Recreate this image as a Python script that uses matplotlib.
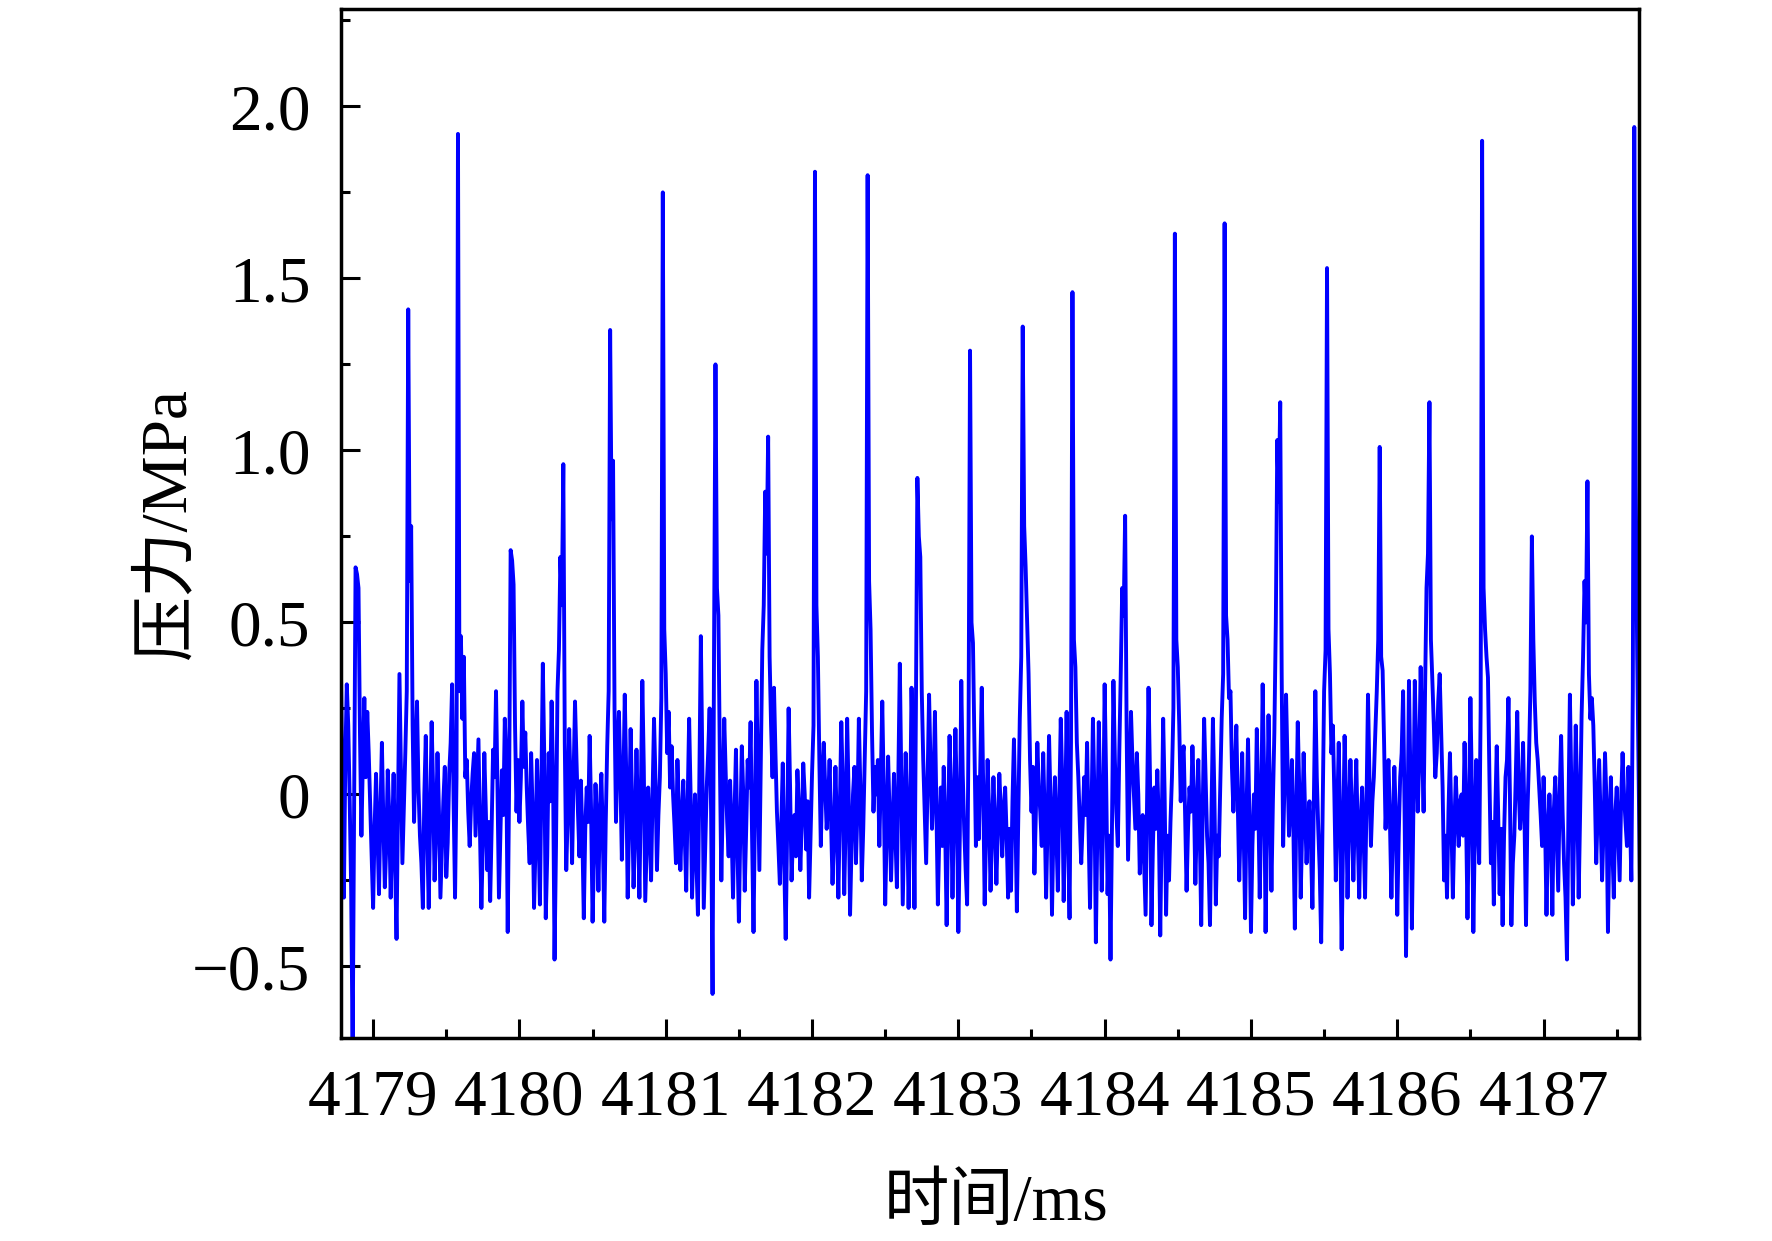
import numpy as np
import matplotlib.pyplot as plt
from matplotlib.ticker import MultipleLocator

# sampled pressure signal (MPa), one sample every 0.01 ms from 4178.78 ms
t_start = 4178.78
dt = 0.01

p_a = [0.36, 0.04, -0.30, 0.10, 0.32, 0.20, -0.02, -0.28, -0.75, -0.05, 0.66, 0.64, 0.60, 0.18,
       -0.12, 0.10, 0.28, 0.05, 0.24, 0.12, -0.03, -0.18, -0.33, -0.10, 0.06, -0.12, -0.29, -0.05, 0.15, -0.08,
       -0.27, -0.15, 0.07, -0.06, -0.30, -0.12, 0.06, -0.20, -0.42, -0.02, 0.35, 0.08, -0.20, -0.04, 0.12, 0.30,
       1.41, 0.62, 0.78, 0.20,
       -0.08, 0.12, 0.27, 0.02, -0.12, -0.20, -0.33, 0.00, 0.17, -0.12, -0.33, -0.06, 0.21, 0.02, -0.25, -0.10,
       0.12, -0.05, -0.30, -0.16, -0.02, 0.08, -0.24, -0.14, 0.06, 0.15, 0.32, -0.02, -0.30, 0.05,
       1.92, 0.30, 0.46, 0.22, 0.40, 0.05,
       0.10, -0.05, -0.15, -0.02, 0.06, 0.12, -0.12, 0.02, 0.16, -0.10, -0.33, -0.14, 0.12, -0.04, -0.22, -0.08,
       -0.31, -0.10, 0.13, 0.05, 0.30, 0.02, -0.30, -0.12, 0.07, -0.06, 0.22, 0.10, -0.40, 0.05]

p_b = [0.71, 0.68, 0.61, 0.20, -0.05, 0.10,
       -0.08, 0.05, 0.27, 0.08, 0.18, 0.02, -0.10, -0.20, 0.12, -0.05, -0.33, -0.15, 0.10, -0.08, -0.32, 0.02,
       0.38, 0.10, -0.36, -0.18, 0.12, -0.02, 0.27, 0.05, -0.48, -0.15, 0.30, 0.42,
       0.69, 0.55, 0.96, 0.15,
       -0.22, -0.06, 0.19, 0.02, -0.20, 0.05, 0.27, 0.10, -0.05, -0.18, 0.04, -0.12, -0.36, -0.10, 0.02, -0.08,
       0.17, -0.05, -0.37, -0.18, 0.03, -0.10, -0.28, -0.04, 0.06, -0.12, -0.37, -0.08, 0.14, 0.30,
       1.35, 0.80, 0.97, 0.25, -0.08, 0.12,
       0.24, 0.05, -0.19, 0.02, 0.29, 0.06, -0.30, -0.08, 0.19, -0.02, -0.27, -0.12, 0.13, -0.06, -0.30, 0.00,
       0.33, 0.08, -0.31, -0.15, 0.02, -0.10, -0.25, 0.00, 0.22, 0.04, -0.22, -0.06, 0.05, 0.28,
       1.75, 0.48, 0.35, 0.12, 0.24, 0.02,
       0.14, 0.00, -0.09, -0.20, 0.10, -0.04, -0.22, -0.08, 0.04, -0.12, -0.28, -0.02, 0.22, 0.00, -0.30, -0.14,
       0.00, -0.20, -0.35, 0.05, 0.46, 0.10, -0.33, -0.15, 0.02, 0.12, 0.25, -0.05]

p_c = [-0.58, 0.40, 1.25, 0.60, 0.52, 0.10, -0.25, -0.02,
       0.22, 0.06, -0.08, -0.18, 0.04, -0.10, -0.30, -0.06, 0.13, -0.15, -0.37, -0.10, 0.14, 0.00, -0.28, -0.10,
       0.10, 0.02, 0.21, -0.12, -0.40, -0.05, 0.33, 0.05, -0.22, 0.10, 0.42, 0.55,
       0.88, 0.70, 1.04, 0.40, 0.20, 0.05, 0.31, 0.12,
       -0.05, -0.15, -0.26, -0.08, 0.09, -0.20, -0.42, -0.10, 0.25, 0.02, -0.25, -0.12, -0.06, -0.18, 0.07, -0.04,
       -0.22, -0.08, 0.09, 0.00, -0.16, -0.02, -0.30, -0.12, 0.06, 0.20,
       1.81, 0.55, 0.40, 0.10, -0.15, 0.05,
       0.15, 0.02, -0.10, -0.02, 0.10, -0.08, -0.26, -0.12, 0.08, -0.10, -0.30, -0.05, 0.21, 0.03, -0.29, -0.08,
       0.22, 0.00, -0.35, -0.15, 0.00, 0.08, -0.20, -0.05, 0.22, 0.02, -0.25, -0.10, 0.10, 0.30,
       1.80, 0.62, 0.48, 0.18, -0.05, 0.08,
       0.00, 0.10, -0.15, 0.05, 0.27, 0.02, -0.32, -0.12, 0.11, -0.06, -0.25, -0.10, 0.06, -0.12, -0.27, 0.05,
       0.38, 0.05, -0.32, -0.10, 0.12, -0.05, -0.33, -0.08, 0.31, 0.10, -0.33, 0.25]

p_d = [0.92, 0.75, 0.69, 0.30, 0.10, -0.05,
       -0.20, 0.05, 0.29, 0.08, -0.10, 0.02, 0.24, -0.05, -0.32, -0.12, 0.02, -0.15, 0.08, -0.10, -0.38, -0.08,
       0.17, 0.00, -0.30, -0.06, 0.19, -0.02, -0.40, -0.12, 0.33, 0.06, -0.10, -0.22, -0.32, 0.20,
       1.29, 0.50, 0.44, 0.15, -0.15, 0.05,
       -0.13, 0.08, 0.31, 0.02, -0.32, -0.10, 0.10, -0.05, -0.28, -0.12, 0.05, -0.08, -0.26, -0.10, 0.06, -0.04,
       -0.18, -0.05, 0.02, -0.12, -0.30, -0.10, -0.28, -0.02, 0.16, -0.06, -0.34, -0.05, 0.22, 0.40,
       1.36, 0.78, 0.66, 0.50, 0.35, 0.10, -0.05, 0.08,
       -0.23, -0.05, 0.15, 0.02, -0.05, -0.15, 0.12, -0.06, -0.30, -0.08, 0.17, -0.02, -0.35, -0.10, 0.05, -0.12,
       -0.28, -0.02, 0.22, 0.04, -0.31, -0.08, 0.24, -0.10, -0.36, 0.15,
       1.46, 0.45, 0.37, 0.15, 0.05, -0.08,
       -0.20, -0.08, 0.05, -0.06, 0.15, -0.10, -0.33, -0.05, 0.22, 0.00, -0.43, -0.12, 0.21, -0.02, -0.28, -0.08,
       0.32, 0.05, -0.29, -0.12, -0.48, -0.10, 0.33, 0.10, -0.05, -0.15, 0.12, 0.35]

p_e = [0.60, 0.52, 0.81, 0.20, -0.19, 0.02, 0.24, 0.10,
       0.00, -0.10, 0.12, 0.00, -0.23, -0.12, -0.06, -0.20, -0.35, -0.02, 0.31, 0.05, -0.38, -0.15, 0.02, -0.10,
       0.07, -0.08, -0.41, -0.10, 0.22, 0.00, -0.35, -0.12, -0.25, -0.08, 0.05, 0.25,
       1.63, 0.45, 0.37, 0.20, -0.02, 0.10,
       0.14, -0.06, -0.28, -0.10, 0.02, -0.05, 0.14, 0.00, -0.26, -0.08, 0.10, -0.10, -0.38, -0.05, 0.22, 0.05,
       -0.12, -0.20, -0.38, -0.06, 0.22, 0.00, -0.32, -0.12, -0.18, 0.02, 0.22, 0.35,
       1.66, 0.52, 0.45, 0.28, 0.30, 0.08,
       -0.05, 0.06, 0.20, -0.02, -0.25, -0.08, 0.12, -0.10, -0.36, -0.04, 0.16, -0.08, -0.40, -0.15, 0.00, -0.10,
       0.19, -0.02, -0.30, -0.05, 0.32, 0.06, -0.40, -0.10, 0.23, 0.00, -0.28, -0.02, 0.18, 0.50,
       1.03, 0.85, 1.14, 0.35, -0.15, 0.05, 0.29, 0.08,
       -0.12, -0.02, 0.10, -0.10, -0.39, -0.05, 0.21, 0.02, -0.30, -0.10, 0.12, -0.05, -0.20, -0.08, -0.02, -0.15,
       -0.33, -0.02, 0.30, 0.05, -0.10, -0.22, -0.43, -0.05, 0.30, 0.42]

p_f = [1.53, 0.48, 0.35, 0.12, 0.20, 0.00,
       -0.25, -0.05, 0.15, -0.10, -0.45, -0.12, 0.17, 0.00, -0.30, -0.08, 0.10, -0.06, -0.25, -0.05, 0.10, -0.12,
       -0.30, -0.08, 0.02, -0.12, -0.30, -0.02, 0.29, 0.05, -0.15, -0.02, 0.05, 0.18, 0.30, 0.45,
       1.01, 0.40, 0.36, 0.15, -0.10, 0.02,
       0.10, -0.08, -0.30, -0.10, 0.08, -0.06, -0.35, -0.12, 0.05, 0.12, 0.30, -0.05, -0.47, -0.10, 0.33, 0.05,
       -0.39, -0.05, 0.33, 0.12, -0.05, 0.10, 0.37, 0.15, -0.05, 0.30, 0.60, 0.70,
       1.14, 0.45, 0.33, 0.20, 0.05, 0.12, 0.27, 0.35, 0.18, 0.02,
       -0.25, -0.12, -0.30, -0.05, 0.12, -0.08, -0.30, -0.10, 0.05, -0.06, -0.15, -0.02, 0.00, -0.12, 0.15, -0.05,
       -0.36, -0.06, 0.28, 0.02, -0.40, -0.12, 0.10, -0.08, -0.20, 0.25]

p_g = [1.90, 0.60, 0.48, 0.40, 0.34, 0.05,
       -0.20, -0.08, -0.32, -0.05, 0.14, -0.06, -0.29, -0.10, -0.38, -0.12, 0.05, 0.10, 0.28, 0.00, -0.38, -0.20,
       -0.12, 0.05, 0.24, 0.02, -0.10, -0.02, 0.15, -0.08, -0.38, -0.05, 0.10, 0.30,
       0.75, 0.45, 0.27, 0.15, 0.10, 0.02,
       -0.06, -0.15, 0.05, -0.08, -0.35, -0.12, 0.00, -0.10, -0.35, -0.05, 0.05, -0.12, -0.28, 0.00, 0.17, -0.05,
       -0.20, -0.30, -0.48, -0.05, 0.29, 0.02, -0.32, -0.08, 0.20, 0.00, -0.30, -0.05, 0.23, 0.40,
       0.62, 0.50, 0.91, 0.35, 0.22, 0.28, 0.20, 0.02,
       -0.20, -0.05, 0.10, -0.08, -0.25, -0.10, 0.12, -0.02, -0.40, -0.12, 0.05, -0.15, -0.30, -0.06, 0.02, -0.12,
       -0.25, -0.02, 0.12, 0.00, -0.08, -0.15, 0.08, -0.05, -0.25, 0.30,
       1.94, 0.90, 0.40, 0.05, -0.30]

x_ticks = [4179, 4180, 4181, 4182, 4183, 4184, 4185, 4186, 4187]
y_ticks = [-0.5, 0, 0.5, 1.0, 1.5, 2.0]
y_labels = ['\u22120.5', '0', '0.5', '1.0', '1.5', '2.0']

pressure = np.array(p_a + p_b + p_c + p_d + p_e + p_f + p_g)
time = t_start + dt * np.arange(len(pressure))

fonts = ['Liberation Serif', 'Noto Sans CJK SC']
plt.rcParams['font.family'] = fonts

fig = plt.figure(figsize=(17.72, 12.41), dpi=100)
ax = fig.add_axes([0.1924, 0.1636, 0.7326, 0.8294])

ax.plot(time, pressure, color='#0000ff', lw=2.8)

ax.set_xlim(4178.78, 4187.653)
ax.set_ylim(-0.708, 2.284)

ax.set_xticks(x_ticks)
ax.set_xticklabels([str(v) for v in x_ticks])
ax.set_yticks(y_ticks)
ax.set_yticklabels(y_labels)
ax.xaxis.set_minor_locator(MultipleLocator(0.5))
ax.yaxis.set_minor_locator(MultipleLocator(0.25))

ax.tick_params(axis='both', which='major', direction='in', length=13.7, width=2.2,
               labelsize=47, top=False, right=False)
ax.tick_params(axis='both', which='minor', direction='in', length=6.5, width=2.2,
               top=False, right=False)
ax.tick_params(axis='x', which='major', pad=22)
ax.tick_params(axis='y', which='major', pad=22)

for s in ax.spines.values():
    s.set_linewidth(2.5)

ax.set_xlabel('时间/ms', fontsize=47, family=fonts)
ax.set_ylabel('压力/MPa', fontsize=47, family=fonts)
ax.xaxis.set_label_coords(0.505, -0.133)
ax.yaxis.set_label_coords(-0.110, 0.5)

fig.savefig('out.png', dpi=100)
